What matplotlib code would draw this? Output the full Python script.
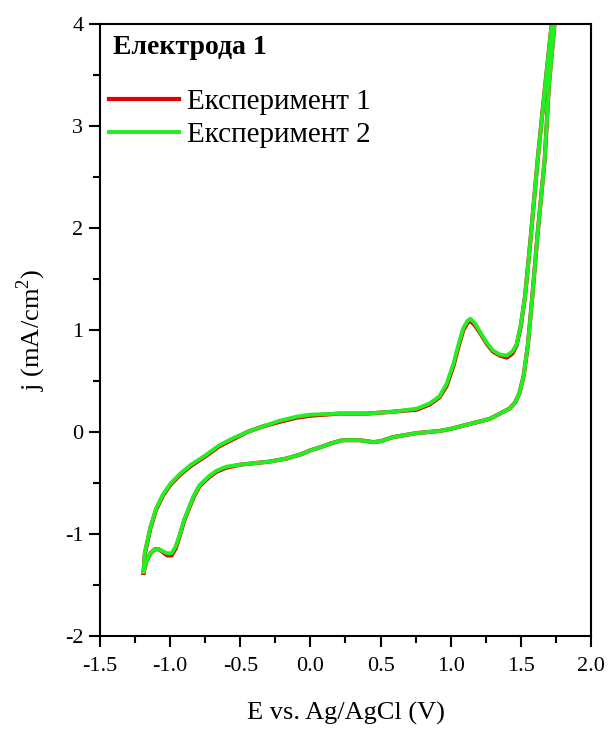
import matplotlib
matplotlib.use("Agg")
import matplotlib.pyplot as plt
from matplotlib.ticker import MultipleLocator

plt.rcParams['font.family'] = ['Liberation Serif', 'DejaVu Serif']
plt.rcParams['mathtext.fontset'] = 'custom'
plt.rcParams['mathtext.rm'] = 'Liberation Serif'

# --- CV data (one closed loop, starting at the cathodic vertex) ---
E_exp1 = [-1.19, -1.18, -1.14, -1.10, -1.05, -1.00, -0.93, -0.85, -0.75, -0.65,
          -0.55, -0.45, -0.35, -0.22, -0.10, 0.00, 0.20, 0.40, 0.60, 0.76,
          0.85, 0.92, 0.97, 1.02, 1.06, 1.09, 1.12, 1.14, 1.17, 1.21,
          1.26, 1.30, 1.35, 1.40, 1.44, 1.47, 1.50, 1.53, 1.57, 1.62,
          1.67, 1.72, 1.73,
          1.745, 1.74, 1.70, 1.67, 1.62, 1.58, 1.55, 1.52, 1.49, 1.46,
          1.42, 1.35, 1.28, 1.20, 1.11, 1.00, 0.92, 0.76, 0.59, 0.50,
          0.45, 0.40, 0.35, 0.23, 0.15, 0.07, 0.00, -0.07, -0.17, -0.29,
          -0.50, -0.60, -0.67, -0.72, -0.79, -0.83, -0.86, -0.90, -0.93, -0.96,
          -0.99, -1.02, -1.05, -1.08, -1.11, -1.14, -1.17, -1.19]
j_exp1 = [-1.38, -1.19, -0.94, -0.76, -0.62, -0.52, -0.42, -0.33, -0.24, -0.14,
          -0.07, 0.00, 0.05, 0.10, 0.14, 0.16, 0.18, 0.18, 0.20, 0.22,
          0.27, 0.34, 0.45, 0.65, 0.86, 1.00, 1.07, 1.09, 1.05, 0.97,
          0.86, 0.79, 0.75, 0.73, 0.77, 0.85, 1.04, 1.33, 1.90, 2.67,
          3.35, 4.00, 4.15,
          4.15, 4.00, 3.40, 2.67, 1.95, 1.30, 0.85, 0.55, 0.38, 0.29,
          0.23, 0.18, 0.13, 0.10, 0.07, 0.03, 0.01, -0.01, -0.05, -0.09,
          -0.10, -0.09, -0.08, -0.08, -0.11, -0.15, -0.18, -0.22, -0.26, -0.29,
          -0.32, -0.35, -0.39, -0.44, -0.53, -0.63, -0.73, -0.87, -1.01, -1.14,
          -1.21, -1.21, -1.18, -1.15, -1.15, -1.19, -1.27, -1.38]

E_exp2 = E_exp1
j_exp2 = [-1.37, -1.18, -0.93, -0.75, -0.61, -0.51, -0.41, -0.32, -0.23, -0.13,
          -0.06, 0.00, 0.05, 0.11, 0.15, 0.17, 0.18, 0.18, 0.20, 0.23,
          0.28, 0.35, 0.47, 0.67, 0.88, 1.02, 1.09, 1.11, 1.07, 0.98,
          0.87, 0.80, 0.76, 0.75, 0.79, 0.86, 1.05, 1.33, 1.90, 2.67,
          3.35, 4.00, 4.15,
          4.15, 4.00, 3.40, 2.67, 1.95, 1.30, 0.85, 0.55, 0.38, 0.29,
          0.23, 0.18, 0.13, 0.10, 0.07, 0.03, 0.01, -0.01, -0.05, -0.09,
          -0.10, -0.09, -0.08, -0.08, -0.11, -0.15, -0.18, -0.22, -0.26, -0.29,
          -0.32, -0.34, -0.38, -0.43, -0.52, -0.62, -0.72, -0.86, -1.00, -1.12,
          -1.19, -1.19, -1.17, -1.15, -1.15, -1.19, -1.27, -1.37]

fig = plt.figure(figsize=(6.08, 7.29), dpi=100)
ax = fig.add_axes([0.1645, 0.1276, 0.8075, 0.8394])

ax.plot(E_exp1, j_exp1, color='#e00000', lw=3.0, solid_joinstyle='round', label='Експеримент 1')
ax.plot(E_exp2, j_exp2, color='#22ee22', lw=2.8, solid_joinstyle='round', label='Експеримент 2')

ax.set_xlim(-1.5, 2.0)
ax.set_ylim(-2, 4)
ax.xaxis.set_major_locator(MultipleLocator(0.5))
ax.xaxis.set_minor_locator(MultipleLocator(0.25))
ax.yaxis.set_major_locator(MultipleLocator(1))
ax.yaxis.set_minor_locator(MultipleLocator(0.5))
ax.xaxis.set_major_formatter(plt.FuncFormatter(lambda v, p: f"{v:.1f}"))
ax.yaxis.set_major_formatter(plt.FuncFormatter(lambda v, p: f"{v:.0f}"))

ax.tick_params(which='both', direction='out', width=1.5, labelsize=16, top=False, right=False)
ax.tick_params(which='major', length=8)
ax.tick_params(axis='x', which='major', pad=7)
ax.tick_params(axis='y', which='major', pad=4)
ax.tick_params(which='minor', length=5)
for s in ax.spines.values():
    s.set_linewidth(1.5)

ax.set_xlabel('E vs. Ag/AgCl (V)', fontsize=19, labelpad=19)
ax.set_ylabel(r'j (mA/cm$^\mathregular{2}$)', fontsize=19, labelpad=12)

# title of the legend block
ax.text(0.026, 0.962, 'Електрода 1', transform=ax.transAxes, fontsize=20,
        fontweight='bold', ha='left', va='center')

ax.legend(loc='upper left', frameon=False, fontsize=21,
          handlelength=2.4, handletextpad=0.25, labelspacing=0.22,
          bbox_to_anchor=(-0.005, 0.913), borderaxespad=0.0)

fig.savefig('out.png', dpi=100)
